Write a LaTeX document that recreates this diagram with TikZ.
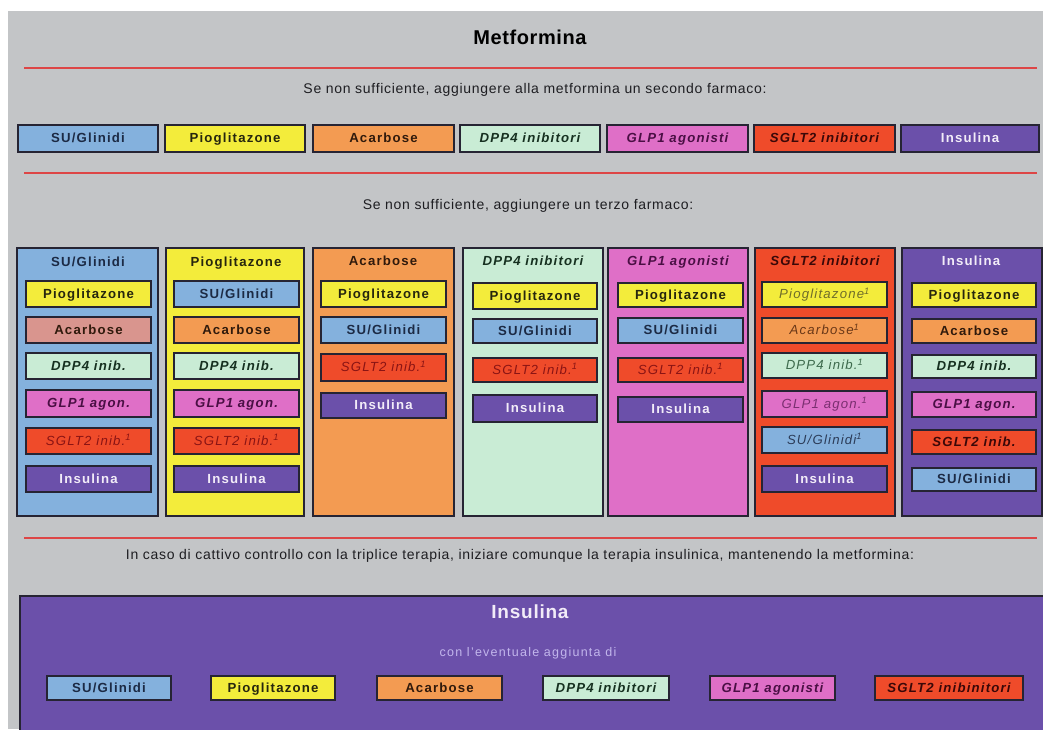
\documentclass[tikz,border=0pt]{standalone}
\usepackage{fontspec}
\setmainfont{Liberation Sans}
% drug colours
\definecolor{cGrey}{HTML}{C3C5C7}
\definecolor{cSU}{HTML}{84B1DD}
\definecolor{cPio}{HTML}{F3EC3B}
\definecolor{cAca}{HTML}{F39B52}
\definecolor{cAcaP}{HTML}{D9958E}
\definecolor{cDPP}{HTML}{C9ECD5}
\definecolor{cGLP}{HTML}{DF6FC7}
\definecolor{cSG}{HTML}{EF4B2A}
\definecolor{cIns}{HTML}{6B50AA}
\definecolor{cRed}{HTML}{DD4646}
\definecolor{cLine}{HTML}{262433}
% label colours
\definecolor{tSU}{HTML}{1C2A44}
\definecolor{tPio}{HTML}{26260E}
\definecolor{tAca}{HTML}{301A0C}
\definecolor{tDPP}{HTML}{163020}
\definecolor{tGLP}{HTML}{4A0F44}
\definecolor{tSG}{HTML}{3A0808}
\definecolor{tSGthin}{HTML}{8A1414}
\definecolor{tIns}{HTML}{F2ECF8}
\definecolor{tPioT}{HTML}{6F6D2A}
\definecolor{tAcaT}{HTML}{6A3818}
\definecolor{tDPPT}{HTML}{3D6A4C}
\definecolor{tGLPT}{HTML}{7A2F70}
\definecolor{tSUT}{HTML}{2C3C58}
\definecolor{tSub}{HTML}{C2B6EC}
\definecolor{tCap}{HTML}{1E1E22}
\newcommand\lblfont{\fontsize{13.2}{15}\selectfont\addfontfeatures{LetterSpace=9}}
\newcommand\txtfont{\fontsize{14}{16}\selectfont\addfontfeatures{LetterSpace=5}}
% box given by its edges: name, x1, y1, x2, y2, style, text
\newcommand\dbox[7]{\node[drug,#6,minimum width={#4-#2},minimum height={#5-#3}] (#1) at ({(#2+#4)/2},{(#3+#5)/2}) {#7};}
\newcommand\colbox[6]{\node[column,#6,minimum width={#4-#2},minimum height={#5-#3}] (#1) at ({(#2+#4)/2},{(#3+#5)/2}) {};}
\begin{document}
\begin{tikzpicture}[x=1pt,y=-1pt,
  drug/.style={draw=cLine,line width=1.3pt,inner sep=0pt,text height=10.5pt,text depth=2pt,font=\lblfont\bfseries},
  column/.style={draw=cLine,line width=1.4pt,inner sep=0pt},
  hd/.style={inner sep=0pt,text height=10.5pt,text depth=2pt,font=\lblfont\bfseries},
  bi/.style={font=\lblfont\bfseries\itshape},
  thin/.style={font=\lblfont\itshape},
  fSU/.style={fill=cSU,text=tSU},
  fPio/.style={fill=cPio,text=tPio},
  fAca/.style={fill=cAca,text=tAca},
  fDPP/.style={fill=cDPP,text=tDPP,bi},
  fGLP/.style={fill=cGLP,text=tGLP,bi},
  fSG/.style={fill=cSG,text=tSG,bi},
  fSGthin/.style={fill=cSG,text=tSGthin,thin},
  fIns/.style={fill=cIns,text=tIns},
  redrule/.style={draw=cRed,line width=1.9pt},
  caption/.style={inner sep=0pt,font=\txtfont,text=tCap}
]
\useasboundingbox (0,0) rectangle (1043,729);
\fill[white] (0,0) rectangle (1043,729);
\fill[cGrey] (8,11) rectangle (1043,729);

% title and first step
\node[inner sep=0pt,font=\fontsize{20}{23}\selectfont\bfseries\addfontfeatures{LetterSpace=3}] (title) at (530,37) {Metformina};
\coordinate (r1a) at (24,68); \coordinate (r1b) at (1037,68);
\draw[redrule] (r1a) -- (r1b);
\node[caption] (step2) at (535,90) {Se non sufficiente, aggiungere alla metformina un secondo farmaco:};

% second drug
\dbox{a1}{18}{125}{158}{152}{fSU}{SU/Glinidi}
\dbox{a2}{165}{125}{305}{152}{fPio}{Pioglitazone}
\dbox{a3}{313}{125}{454}{152}{fAca}{Acarbose}
\dbox{a4}{460}{125}{600}{152}{fDPP}{DPP4 inibitori}
\dbox{a5}{607}{125}{748}{152}{fGLP}{GLP1 agonisti}
\dbox{a6}{754}{125}{895}{152}{fSG}{SGLT2 inibitori}
\dbox{a7}{901}{125}{1039}{152}{fIns}{Insulina}

\coordinate (r2a) at (24,173); \coordinate (r2b) at (1037,173);
\draw[redrule] (r2a) -- (r2b);
\node[caption] (step3) at (528,206) {Se non sufficiente, aggiungere un terzo farmaco:};

% third drug: one column per second drug
\colbox{c1}{17}{248}{158}{516}{fill=cSU}
\node[hd,text=tSU] (c1h) at (88,262) {SU/Glinidi};
\dbox{c1a}{26}{281}{151}{307}{fPio}{Pioglitazone}
\dbox{c1b}{26}{317}{151}{343}{fill=cAcaP,text=tAca}{Acarbose}
\dbox{c1c}{26}{353}{151}{379}{fDPP}{DPP4 inib.}
\dbox{c1d}{26}{390}{151}{417}{fGLP}{GLP1 agon.}
\dbox{c1e}{26}{428}{151}{454}{fSGthin}{SGLT2 inib.\textsuperscript{1}}
\dbox{c1f}{26}{466}{151}{492}{fIns}{Insulina}

\colbox{c2}{166}{248}{304}{516}{fill=cPio}
\node[hd,text=tPio] (c2h) at (236,262) {Pioglitazone};
\dbox{c2a}{174}{281}{299}{307}{fSU}{SU/Glinidi}
\dbox{c2b}{174}{317}{299}{343}{fAca}{Acarbose}
\dbox{c2c}{174}{353}{299}{379}{fDPP}{DPP4 inib.}
\dbox{c2d}{174}{390}{299}{417}{fGLP}{GLP1 agon.}
\dbox{c2e}{174}{428}{299}{454}{fSGthin}{SGLT2 inib.\textsuperscript{1}}
\dbox{c2f}{174}{466}{299}{492}{fIns}{Insulina}

\colbox{c3}{313}{248}{454}{516}{fill=cAca}
\node[hd,text=tAca] (c3h) at (383,261) {Acarbose};
\dbox{c3a}{321}{281}{446}{307}{fPio}{Pioglitazone}
\dbox{c3b}{321}{317}{446}{343}{fSU}{SU/Glinidi}
\dbox{c3c}{321}{354}{446}{381}{fSGthin}{SGLT2 inib.\textsuperscript{1}}
\dbox{c3d}{321}{393}{446}{418}{fIns}{Insulina}

\colbox{c4}{463}{248}{603}{516}{fill=cDPP}
\node[hd,bi,text=tDPP] (c4h) at (533,261) {DPP4 inibitori};
\dbox{c4a}{473}{283}{597}{309}{fPio}{Pioglitazone}
\dbox{c4b}{473}{319}{597}{343}{fSU}{SU/Glinidi}
\dbox{c4c}{473}{358}{597}{382}{fSGthin}{SGLT2 inib.\textsuperscript{1}}
\dbox{c4d}{473}{395}{597}{422}{fIns}{Insulina}

\colbox{c5}{608}{248}{748}{516}{fill=cGLP}
\node[hd,bi,text=tGLP] (c5h) at (678,261) {GLP1 agonisti};
\dbox{c5a}{618}{283}{743}{307}{fPio}{Pioglitazone}
\dbox{c5b}{618}{318}{743}{343}{fSU}{SU/Glinidi}
\dbox{c5c}{618}{358}{743}{382}{fSGthin}{SGLT2 inib.\textsuperscript{1}}
\dbox{c5d}{618}{397}{743}{422}{fIns}{Insulina}

\colbox{c6}{755}{248}{895}{516}{fill=cSG}
\node[hd,bi,text=tSG] (c6h) at (825,261) {SGLT2 inibitori};
\dbox{c6a}{762}{282}{887}{307}{fill=cPio,text=tPioT,thin}{Pioglitazone\textsuperscript{1}}
\dbox{c6b}{762}{318}{887}{343}{fill=cAca,text=tAcaT,thin}{Acarbose\textsuperscript{1}}
\dbox{c6c}{762}{353}{887}{378}{fill=cDPP,text=tDPPT,thin}{DPP4 inib.\textsuperscript{1}}
\dbox{c6d}{762}{391}{887}{417}{fill=cGLP,text=tGLPT,thin}{GLP1 agon.\textsuperscript{1}}
\dbox{c6e}{762}{427}{887}{453}{fill=cSU,text=tSUT,thin}{SU/Glinidi\textsuperscript{1}}
\dbox{c6f}{762}{466}{887}{492}{fIns}{Insulina}

\colbox{c7}{902}{248}{1042}{516}{fill=cIns}
\node[hd,text=tIns] (c7h) at (971,261) {Insulina};
\dbox{c7a}{912}{283}{1036}{307}{fPio}{Pioglitazone}
\dbox{c7b}{912}{319}{1036}{343}{fAca}{Acarbose}
\dbox{c7c}{912}{355}{1036}{378}{fDPP}{DPP4 inib.}
\dbox{c7d}{912}{392}{1036}{417}{fGLP}{GLP1 agon.}
\dbox{c7e}{912}{430}{1036}{454}{fSG}{SGLT2 inib.}
\dbox{c7f}{912}{468}{1036}{491}{fSU}{SU/Glinidi}

\coordinate (r3a) at (24,538); \coordinate (r3b) at (1037,538);
\draw[redrule] (r3a) -- (r3b);
\node[caption] (step4) at (520,556) {In caso di cattivo controllo con la triplice terapia, iniziare comunque la terapia insulinica, mantenendo la metformina:};

% insulin with optional add-ons
\node[column,fill=cIns,minimum width=1027,minimum height=137] (ins) at (533.5,664.5) {};
\node[inner sep=0pt,text=tIns,font=\fontsize{19}{22}\selectfont\bfseries\addfontfeatures{LetterSpace=4}] (insh) at (530,612) {Insulina};
\node[inner sep=0pt,text=tSub,font=\fontsize{12.5}{15}\selectfont\addfontfeatures{LetterSpace=10}] (insn) at (528,653) {con l'eventuale aggiunta di};
\dbox{b1}{47}{676}{171}{700}{fSU}{SU/Glinidi}
\dbox{b2}{211}{676}{335}{700}{fPio}{Pioglitazone}
\dbox{b3}{377}{676}{502}{700}{fAca}{Acarbose}
\dbox{b4}{543}{676}{669}{700}{fDPP}{DPP4 inibitori}
\dbox{b5}{710}{676}{835}{700}{fGLP}{GLP1 agonisti}
\dbox{b6}{875}{676}{1023}{700}{fSG}{SGLT2 inibinitori}
\end{tikzpicture}
\end{document}
